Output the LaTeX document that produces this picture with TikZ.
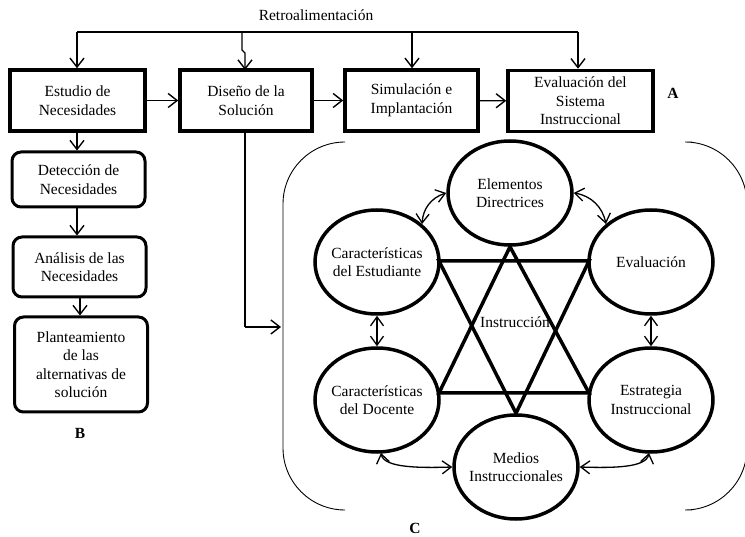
\documentclass[tikz,border=0pt]{standalone}
\usepackage{fontspec}
\setmainfont{Liberation Serif}
\usetikzlibrary{arrows.meta, shapes.geometric}

\begin{document}
\begin{tikzpicture}[x=1pt, y=-1pt,
  every node/.style={align=center, font=\fontsize{15.5}{18.5}\selectfont},
  caja/.style={draw, line width=3.5pt, minimum width=#1, minimum height=61pt, inner sep=1pt},
  redondo/.style={draw, line width=3pt, rounded corners=9pt, minimum width=133pt, inner sep=1pt},
  elipse/.style={draw, ellipse, line width=3.5pt, minimum width=124pt, minimum height=104pt, inner sep=0pt},
  flecha/.style={line width=1.4pt, -{Straight Barb[length=9pt,width=14pt]}},
  doble/.style={line width=1.3pt, {Straight Barb[length=9pt,width=13pt]}-{Straight Barb[length=9pt,width=13pt]}}]
  \useasboundingbox (0,0) rectangle (745,537);

  % fila superior
  \node[caja=135pt] (est) at (77.5,100.5) {Estudio de\\Necesidades};
  \node[caja=132pt] (dis) at (246,100.5) {Diseño de la\\Solución};
  \node[caja=133pt] (sim) at (411.5,100.5) {Simulación e\\Implantación};
  \node[caja=145pt] (eva) at (580.5,101) {Evaluación del\\Sistema\\Instruccional};
  \node[font=\fontsize{15.5}{18.5}\selectfont\bfseries] (a) at (673,93) {A};

  \path[draw, flecha] (est) -- (dis);
  \path[draw, flecha] (dis) -- (sim);
  \path[draw, flecha] (sim) -- (eva);

  % retroalimentacion
  \node (retro) at (316,15) {Retroalimentación};
  \coordinate (r1) at (77,32);
  \coordinate (r2) at (242,32);
  \coordinate (r3) at (412,32);
  \coordinate (r4) at (578,32);
  \path[draw, line width=1.4pt] (r1) -- (r4);
  \path[draw, flecha] (r1) -- (r1 |- est.north);
  \path[draw, flecha] (r2) -- (242,50) -- (245,53) -- (245,70);
  \path[draw, flecha] (r3) -- (r3 |- sim.north);
  \path[draw, flecha] (r4) -- (r4 |- eva.north);

  % columna B
  \node[redondo, minimum height=55pt] (det) at (78.5,179.5) {Detección de\\Necesidades};
  \node[redondo, minimum height=60pt] (ana) at (79.5,267) {Análisis de las\\Necesidades};
  \node[redondo, minimum height=95pt] (pla) at (81,364.5) {Planteamiento\\de las\\alternativas de\\solución};
  \node[font=\fontsize{15.5}{18.5}\selectfont\bfseries] (b) at (80,433) {B};

  \path[draw, flecha] (77,131) -- (det.north -| 77,0);
  \path[draw, flecha] (det.south -| 77,0) -- (ana.north -| 77,0);
  \path[draw, flecha] (ana.south -| 80,0) -- (pla.north -| 80,0);

  % hacia el bloque C
  \coordinate (c1) at (245,327);
  \coordinate (c2) at (281,327);
  \path[draw, line width=1.4pt] (dis.south -| 245,0) -- (c1);
  \path[draw, flecha] (c1) -- (c2);

  % llaves del bloque C
  \path[draw, line width=0.9pt, rounded corners=62pt] (345,142) -- (283,142) -- (283,510) -- (345,510);
  \path[draw, line width=0.9pt, rounded corners=62pt] (692,142) -- (747,142) -- (747,510) -- (692,510);
  \node[font=\fontsize{15.5}{18.5}\selectfont\bfseries] (c) at (415,528) {C};

  % elipses
  \node[elipse, label={center:{Elementos\\Directrices}}] (ele) at (510,193) {};
  \node[elipse, label={center:{Características\\del Estudiante}}] (estu) at (377,262) {};
  \node[elipse, label={center:{Evaluación}}] (evl) at (651,262) {};
  \node[elipse, label={center:{Características\\del Docente}}] (doc) at (377,400) {};
  \node[elipse, label={center:{Estrategia\\Instruccional}}] (estr) at (651,400) {};
  \node[elipse, label={center:{Medios\\Instruccionales}}] (med) at (516,467) {};

  % estrella
  \path[draw, line width=3.5pt] (ele.south) -- (439,393) -- (589,393) -- cycle;
  \path[draw, line width=3.5pt] (439,261) -- (589,261) -- (med.north) -- cycle;
  \node (ins) at (515,322) {Instrucción};

  % relaciones
  \path[draw, doble] (estu.south) -- (doc.north);
  \path[draw, doble] (evl.south) -- (estr.north);
  \path[draw, doble] (estu.north east) to[bend left=35] (ele.west);
  \path[draw, doble] (ele.east) to[bend left=35] (evl.north west);
  \path[draw, doble] (381,453) .. controls (384,468) and (420,468) .. (med.west);
  \path[draw, doble] (649,453) .. controls (646,468) and (612,468) .. (med.east);
\end{tikzpicture}
\end{document}
